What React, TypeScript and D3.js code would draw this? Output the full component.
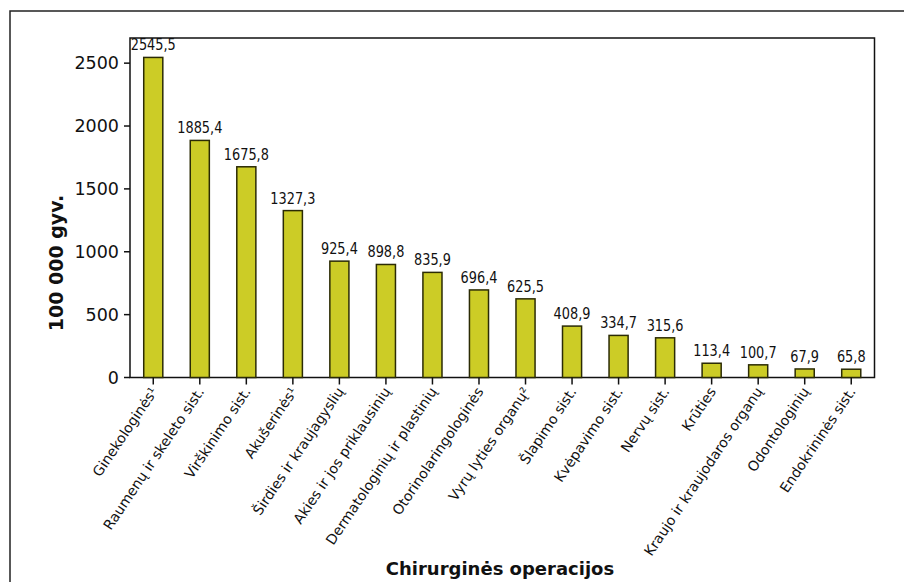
import React from "react";
import * as d3 from "d3";

const categories = [
  "Ginekologinės¹",
  "Raumenų ir skeleto sist.",
  "Virškinimo sist.",
  "Akušerinės¹",
  "Širdies ir kraujagyslių",
  "Akies ir jos priklausinių",
  "Dermatologinių ir plastinių",
  "Otorinolaringologinės",
  "Vyrų lyties organų²",
  "Šlapimo sist.",
  "Kvėpavimo sist.",
  "Nervų sist.",
  "Krūties",
  "Kraujo ir kraujodaros organų",
  "Odontologinių",
  "Endokrininės sist.",
];
const values = [2545.5, 1885.4, 1675.8, 1327.3, 925.4, 898.8, 835.9, 696.4, 625.5, 408.9, 334.7, 315.6, 113.4, 100.7, 67.9, 65.8];
const yTicks = [0, 500, 1000, 1500, 2000, 2500];
const yTitle = "100 000 gyv.";
const xTitle = "Chirurginės operacijos";

const W = 904;
const H = 582;
const plot = { left: 130, top: 38, right: 874.5, bottom: 377.5 };
const FONT = "'DejaVu Sans', Verdana, sans-serif";

export default function App() {
  const x = d3
    .scaleBand<string>()
    .domain(categories)
    .range([plot.left, plot.right])
    .paddingInner(0)
    .paddingOuter(0);
  const y = d3.scaleLinear().domain([0, 2700]).range([plot.bottom, plot.top]);
  const bw = x.bandwidth() * 0.41;
  const fmt = (v: number) => v.toFixed(1).replace(".", ",");

  return (
    <svg
      width={W}
      height={H}
      style={{ position: "absolute", left: 0, top: 0, display: "block", background: "#fff" }}
      fontFamily={FONT}
    >
      <rect x={10} y={11} width={W} height={H} fill="none" stroke="#222" strokeWidth={1.5} />
      <rect
        x={plot.left}
        y={plot.top}
        width={plot.right - plot.left}
        height={plot.bottom - plot.top}
        fill="#fff"
        stroke="#111"
        strokeWidth={1.5}
      />
      {yTicks.map((t) => (
        <g key={t}>
          <line x1={plot.left - 6} x2={plot.left} y1={y(t)} y2={y(t)} stroke="#111" strokeWidth={1.5} />
          <text x={plot.left - 11} y={y(t)} dy="0.36em" textAnchor="end" fontSize={17.5} fill="#111">
            {t}
          </text>
        </g>
      ))}
      {categories.map((c, i) => {
        const cx = (x(c) as number) + x.bandwidth() / 2;
        const v = values[i];
        return (
          <g key={c}>
            <rect
              x={cx - bw / 2}
              y={y(v)}
              width={bw}
              height={y(0) - y(v)}
              fill="#cccc26"
              stroke="#2b2b05"
              strokeWidth={1.5}
            />
            <g transform={`translate(${cx},${y(v) - 7}) scale(0.86,1)`}>
              <text x={0} y={0} textAnchor="middle" fontSize={15} fill="#111">
                {fmt(v)}
              </text>
            </g>
            <line x1={cx} x2={cx} y1={plot.bottom} y2={plot.bottom + 7} stroke="#111" strokeWidth={1.5} />
            <text
              transform={`translate(${cx + 5},${plot.bottom + 14}) rotate(-56)`}
              textAnchor="end"
              fontSize={14}
              fill="#111"
            >
              {c}
            </text>
          </g>
        );
      })}
      <text
        transform={`translate(63,263) rotate(-90)`}
        textAnchor="middle"
        fontSize={19}
        fontWeight="bold"
        fill="#111"
      >
        {yTitle}
      </text>
      <text x={500} y={575} textAnchor="middle" fontSize={18} fontWeight="bold" fill="#111">
        {xTitle}
      </text>
    </svg>
  );
}
